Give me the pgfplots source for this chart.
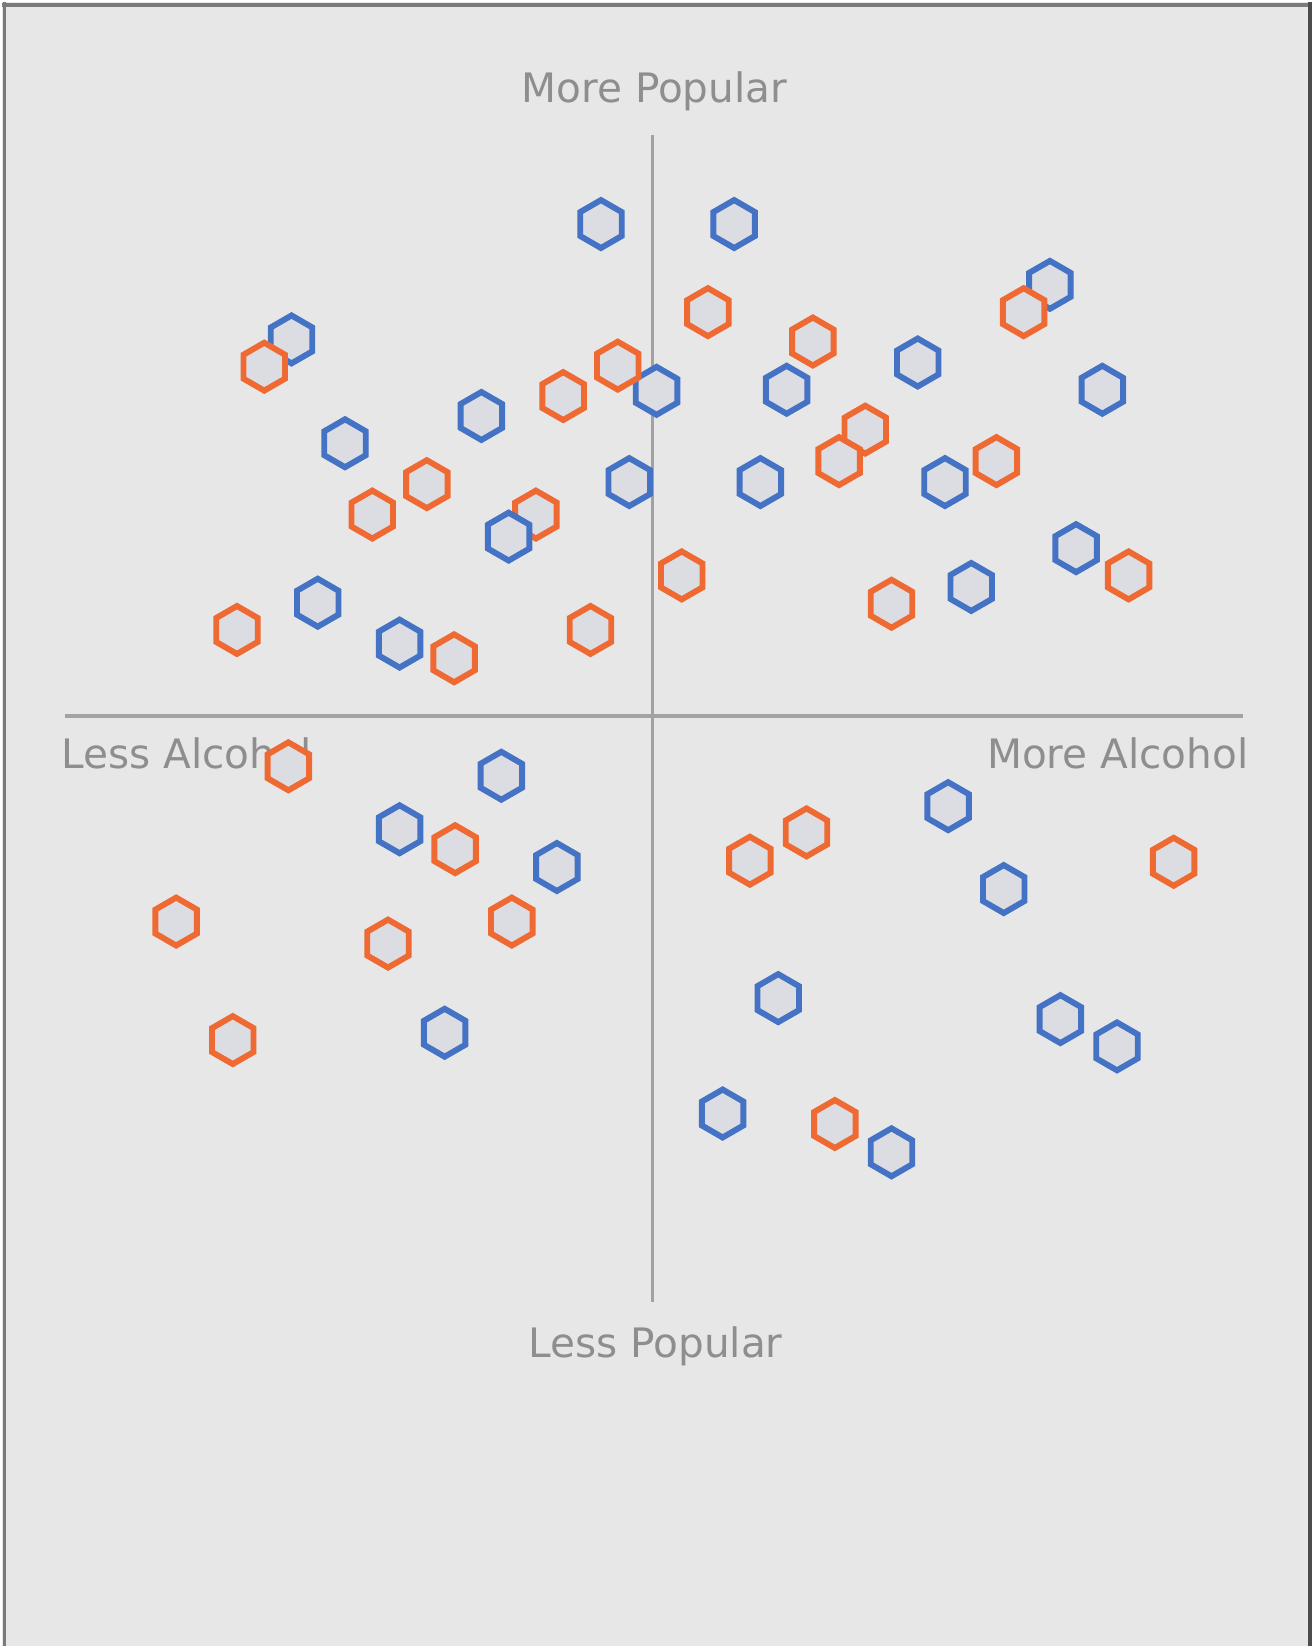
\documentclass[border=0pt]{standalone}
\usepackage{pgfplots}
\pgfplotsset{compat=1.18}
\usepackage{fontspec}
\setmainfont{DejaVu Sans}
\definecolor{bg}{HTML}{E7E7E7}
\definecolor{bl}{HTML}{4472C4}
\definecolor{org}{HTML}{EF6A32}
\definecolor{axg}{HTML}{A2A2A2}
\definecolor{txt}{HTML}{8E8E8E}
\definecolor{hexfill}{HTML}{DCDDE2}
\definecolor{frame}{HTML}{7A7A7A}
\pgfdeclareplotmark{hex}{%
  \pgfpathmoveto{\pgfpointpolar{90}{\pgfplotmarksize}}%
  \pgfpathlineto{\pgfpointpolar{150}{\pgfplotmarksize}}%
  \pgfpathlineto{\pgfpointpolar{210}{\pgfplotmarksize}}%
  \pgfpathlineto{\pgfpointpolar{270}{\pgfplotmarksize}}%
  \pgfpathlineto{\pgfpointpolar{330}{\pgfplotmarksize}}%
  \pgfpathlineto{\pgfpointpolar{30}{\pgfplotmarksize}}%
  \pgfpathclose
  \pgfusepathqfillstroke}
\begin{document}
\begin{tikzpicture}
\begin{axis}[
  width=12.49cm, height=15.68cm, scale only axis,
  xmin=0, xmax=1249, ymin=0, ymax=1568, y dir=reverse,
  hide axis, clip=false,
]
\fill[bg] (axis cs:0,0) rectangle (axis cs:1249,1568);
\addplot[frame, line width=1.1pt] coordinates {(0,3) (1249,3)};
\addplot[frame, line width=0.8pt] coordinates {(2,0) (2,1568)};
\addplot[black!70, line width=0.9pt] coordinates {(1247,0) (1247,1568)};
\addplot[axg, line width=0.85pt] coordinates {(620,127) (620,1240)};
\addplot[axg, line width=0.85pt] coordinates {(60,681) (1183,681)};
\addplot[only marks, mark=hex, mark size=6.5pt,
  mark options={draw=bl, fill=hexfill, line width=1.6pt}] table {
x y
571 212
698 212
999 270
276 322
873 344
624 371
748 370
1049 370
457 395
327 421
598 458
723 458
899 458
1024 521
924 558
301 573
379 612
476 738
379 789
529 825
902 767
955 846
740 950
422 983
1009 970
1063 996
687 1060
848 1097
};
\addplot[only marks, mark=hex, mark size=6.5pt,
  mark options={draw=org, fill=hexfill, line width=1.6pt}] table {
x y
673 296
974 296
773 324
250 348
587 347
535 376
823 408
798 438
948 438
405 460
353 489
509 489
648 547
1074 547
848 574
224 599
561 599
431 626
273 729
432 808
713 819
767 792
1117 820
166 877
486 877
368 898
220 990
794 1070
};
\addplot[only marks, mark=hex, mark size=6.5pt,
  mark options={draw=bl, fill=hexfill, line width=1.6pt}] table {
x y
483 510
};
\node[txt, font=\fontsize{11}{13}\selectfont, anchor=center] at (axis cs:622,85) {More Popular};
\node[txt, font=\fontsize{11}{13}\selectfont, anchor=center] at (axis cs:623,1282) {Less Popular};
\node[txt, font=\fontsize{11}{13}\selectfont, anchor=west, inner sep=0pt] at (axis cs:56,717) {Less Alcohol};
\node[txt, font=\fontsize{11}{13}\selectfont, anchor=east, inner sep=0pt] at (axis cs:1189,717) {More Alcohol};
\end{axis}
\end{tikzpicture}
\end{document}
